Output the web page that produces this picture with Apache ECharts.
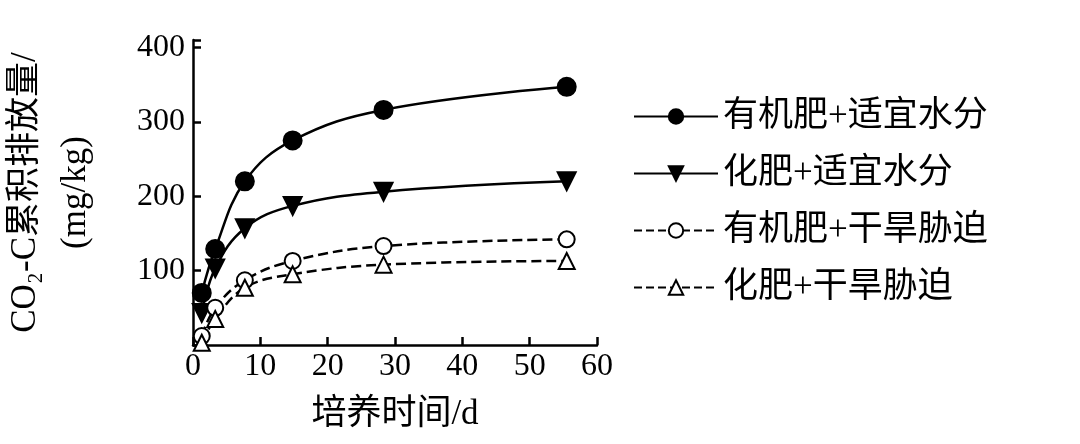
<!DOCTYPE html><html><head><meta charset="utf-8"><script src="https://cdn.jsdelivr.net/npm/echarts@6/dist/echarts.min.js"></script></head><body style="margin:0"><div id="c" style="width:1080px;height:444px"></div><script>
const days=[1.3,3.3,7.7,14.8,28.3,55.5];
const names=['有机肥+适宜水分','化肥+适宜水分','有机肥+干旱胁迫','化肥+干旱胁迫'];
const s1=[70,129,220,275,316,347];
const s2=[43,103,157,187,206,220];
const s3=[12,50,87,113,133,142];
const s4=[3,35,77,95,108,113];
const xTicks=[0,10,20,30,40,50,60];
const yTicks=[100,200,300,400];
const F='"Liberation Serif","Noto Sans CJK SC",serif';
const sets=[[s1,'circle',true,'solid'],[s2,'triangle',true,'solid'],[s3,'circle',false,'dashed'],[s4,'triangle',false,'dashed']];
const series=sets.map((s,i)=>({name:names[i],type:'line',smooth:0.4,data:days.map((d,j)=>[d,s[0][j]]),
 symbol:s[1],symbolRotate:(s[1]==='triangle'&&s[2])?180:0,symbolSize:s[2]?18:16,
 lineStyle:{color:'#000',width:2.5,type:s[3]},itemStyle:{color:s[2]?'#000':'#fff',borderColor:'#000',borderWidth:2}}));
const ch=echarts.init(document.getElementById('c'));
ch.setOption({animation:false,
grid:{left:184,right:483,top:40,bottom:99},
legend:{orient:'vertical',left:628,top:94,itemGap:22,itemWidth:84,itemHeight:18,textStyle:{fontSize:35,fontFamily:F,color:'#000'},data:names},
xAxis:{type:'value',min:0,max:60,interval:10,name:'培养时间/d',nameLocation:'middle',nameGap:52,nameTextStyle:{fontSize:35,fontFamily:F,color:'#000'},
 axisLine:{lineStyle:{color:'#000',width:2.5}},axisTick:{inside:true,length:8,lineStyle:{width:2.5}},axisLabel:{fontSize:32,fontFamily:F,color:'#000',margin:6},splitLine:{show:false}},
yAxis:{type:'value',min:0,max:410,interval:100,name:'CO₂-C累积排放量/\n(mg/kg)',nameLocation:'middle',nameRotate:90,nameGap:92,nameTextStyle:{fontSize:35,fontFamily:F,color:'#000',lineHeight:50},
 axisLine:{lineStyle:{color:'#000',width:2.5}},axisTick:{inside:true,length:8,lineStyle:{width:2.5}},
 axisLabel:{fontSize:32,fontFamily:F,color:'#000',margin:8,formatter:v=>yTicks.includes(v)?String(v):''},splitLine:{show:false}},
series});
</script></body></html>
